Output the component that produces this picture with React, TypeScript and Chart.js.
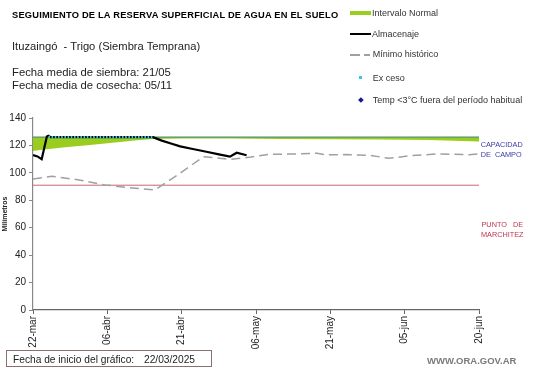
import React, { useEffect, useRef } from 'react';
import { Chart, registerables } from 'chart.js';

Chart.register(...registerables);

// X axis: days since 22/03/2025
const tickLabels = ['22-mar', '06-abr', '21-abr', '06-may', '21-may', '05-jun', '20-jun'];
const yTicks = [0, 20, 40, 60, 80, 100, 120, 140];

// Intervalo normal (band)
const bandDays = [0, 1.4, 6, 11.5, 16, 21.6, 24.2, 30, 40, 50, 60, 70, 80, 85, 90];
const bandLower = [116, 116.7, 118.5, 120.3, 122, 124, 124.7, 125, 125, 124.6, 124.5, 124.3, 124, 123.5, 122.8];
const bandUpper = [126, 126, 126, 126, 126, 126, 126, 126, 126, 126, 126, 126, 126, 126, 126];

// Almacenaje
const almDays = [0, 0.9, 1.75, 2.8, 3.1, 3.5, 24.2, 26, 28, 29.7, 32, 35, 37.5, 39.75, 41.1, 43.1];
const almValues = [113, 112, 110, 126.5, 127, 126, 126, 123.5, 121.2, 119.3, 117.6, 115.4, 113.5, 111.8, 114.7, 112.8];

// Exceso
const excesoDays = [3.1, 24.2];
const excesoValues = [126, 126];

// Mínimo histórico
const minDays = [0, 3.8, 9, 14.5, 20, 24.6, 29, 34.4, 37, 39.75, 44, 47.8, 52, 57.3, 59, 63, 68, 71.8, 76.2, 81.6, 84.3, 88, 90];
const minValues = [95.5, 97.5, 95, 91.2, 89, 87.5, 98, 111.8, 111, 109.9, 111.5, 113.6, 113.7, 114.3, 113.2, 113.3, 112.8, 110.6, 112.5, 113.8, 113.6, 113.2, 113.8];

// Reference lines
const limitDays = [0, 90];
const capacidadCampo = [126, 126];
const puntoMarchitez = [91, 91];

const pts = (xs: number[], ys: number[]) => xs.map((x, i) => ({ x, y: ys[i] }));

const FONT = '"Liberation Sans", Arial, sans-serif';

function T(props: { x: number; y: number; size: number; color?: string; bold?: boolean; children: React.ReactNode; spacing?: number }) {
  return (
    <div
      style={{
        position: 'absolute',
        left: props.x,
        top: props.y,
        transform: 'translateY(-50%)',
        fontSize: props.size,
        lineHeight: 1,
        color: props.color || '#222',
        fontWeight: props.bold ? 'bold' : 'normal',
        whiteSpace: 'pre',
        letterSpacing: props.spacing || 0,
      }}
    >
      {props.children}
    </div>
  );
}

export default function App() {
  const ref = useRef<HTMLCanvasElement>(null);

  useEffect(() => {
    document.body.style.margin = '0';
    const chart = new Chart(ref.current as HTMLCanvasElement, {
      type: 'line',
      data: {
        datasets: [
          {
            label: 'lower',
            data: pts(bandDays, bandLower),
            borderWidth: 0,
            borderColor: 'rgba(0,0,0,0)',
            pointRadius: 0,
            fill: false,
            order: 6,
          },
          {
            label: 'Intervalo Normal',
            data: pts(bandDays, bandUpper),
            borderWidth: 0,
            borderColor: 'rgba(0,0,0,0)',
            backgroundColor: '#9acd1e',
            pointRadius: 0,
            fill: '-1',
            order: 5,
          },
          {
            label: 'Capacidad de campo',
            data: pts(limitDays, capacidadCampo),
            borderWidth: 1.2,
            borderColor: '#4f8f6a',
            pointRadius: 0,
            fill: false,
            order: 4,
          },
          {
            label: 'Punto de marchitez',
            data: pts(limitDays, puntoMarchitez),
            borderWidth: 1,
            borderColor: '#c86a6a',
            pointRadius: 0,
            fill: false,
            order: 3,
          },
          {
            label: 'Mínimo histórico',
            data: pts(minDays, minValues),
            borderWidth: 1.5,
            borderColor: '#a0a0a0',
            borderDash: [9, 5],
            pointRadius: 0,
            fill: false,
            order: 2,
          },
          {
            label: 'Almacenaje',
            data: pts(almDays, almValues),
            borderWidth: 2.2,
            borderColor: '#000000',
            pointRadius: 0,
            fill: false,
            order: 1,
          },
          {
            label: 'Exceso',
            data: pts(excesoDays, excesoValues),
            borderWidth: 2.4,
            borderColor: '#3cc6e0',
            borderDash: [1.6, 1.6],
            borderCapStyle: 'butt',
            pointRadius: 0,
            fill: false,
            order: 0,
          },
        ],
      },
      options: {
        responsive: false,
        animation: false,
        maintainAspectRatio: false,
        layout: { padding: { left: 0, right: 62, top: 118, bottom: 0 } },
        plugins: { legend: { display: false }, tooltip: { enabled: false } },
        elements: { line: { tension: 0 } },
        scales: {
          x: {
            type: 'linear',
            min: 0,
            max: 90,
            afterFit: (s: any) => {
              s.height = 58;
            },
            afterBuildTicks: (s: any) => {
              s.ticks = tickLabels.map((_, i) => ({ value: i * 15 }));
            },
            ticks: {
              autoSkip: false,
              minRotation: 90,
              maxRotation: 90,
              padding: 2,
              color: '#222',
              font: { family: FONT, size: 10 },
              callback: (v: any) => tickLabels[Math.round(Number(v) / 15)] ?? '',
            },
            grid: { display: true, drawOnChartArea: false, drawTicks: true, tickLength: 4, color: '#666' },
            border: { display: true, color: '#666', width: 1.2 },
          },
          y: {
            type: 'linear',
            min: 0,
            max: 140,
            afterFit: (s: any) => {
              s.width = 33;
            },
            afterBuildTicks: (s: any) => {
              s.ticks = yTicks.map((v) => ({ value: v }));
            },
            ticks: {
              padding: 3,
              color: '#222',
              font: { family: FONT, size: 10 },
            },
            title: {
              display: true,
              text: 'Milímetros',
              color: '#222',
              padding: 1,
              font: { family: FONT, size: 7, weight: 'bold' },
            },
            grid: { display: true, drawOnChartArea: false, drawTicks: true, tickLength: 4, color: '#888' },
            border: { display: true, color: '#888', width: 1.2 },
          },
        },
      },
    } as any);
    return () => chart.destroy();
  }, []);

  return (
    <div
      style={{
        position: 'relative',
        width: 541,
        height: 368,
        overflow: 'hidden',
        background: '#fff',
        fontFamily: FONT,
      }}
    >
      <canvas ref={ref} width={541} height={368} style={{ position: 'absolute', left: 0, top: 0 }} />

      <T x={12} y={15.5} size={9.3} bold color="#000" spacing={0.2}>
        SEGUIMIENTO DE LA RESERVA SUPERFICIAL DE AGUA EN EL SUELO
      </T>
      <T x={12} y={46.5} size={11.2} color="#222">
        {'Ituzaingó  - Trigo (Siembra Temprana)'}
      </T>
      <T x={12} y={73.4} size={11.3} color="#222">
        Fecha media de siembra: 21/05
      </T>
      <T x={12} y={85.5} size={11.3} color="#222">
        Fecha media de cosecha: 05/11
      </T>

      {/* Legend */}
      <div style={{ position: 'absolute', left: 350, top: 11, width: 21, height: 4, background: '#9acd1e' }} />
      <T x={372} y={12.7} size={9} color="#333">Intervalo Normal</T>
      <div style={{ position: 'absolute', left: 350, top: 32.5, width: 21, height: 2, background: '#000' }} />
      <T x={372} y={33.5} size={9} color="#333">Almacenaje</T>
      <div style={{ position: 'absolute', left: 350, top: 54, width: 10, height: 1.5, background: '#a0a0a0' }} />
      <div style={{ position: 'absolute', left: 364, top: 54, width: 6, height: 1.5, background: '#a0a0a0' }} />
      <T x={372.7} y={54.3} size={9} color="#333">Mínimo histórico</T>
      <div style={{ position: 'absolute', left: 359.3, top: 76.3, width: 3, height: 3, background: '#3cc6e0' }} />
      <T x={372.7} y={77.7} size={9} color="#333">{'Ex ceso'}</T>
      <div
        style={{
          position: 'absolute',
          left: 358.8,
          top: 98.1,
          width: 3.8,
          height: 3.8,
          background: '#1a1a8c',
          transform: 'rotate(45deg)',
        }}
      />
      <T x={372.7} y={100} size={9} color="#333">Temp &lt;3°C fuera del período habitual</T>

      {/* Right labels */}
      <T x={480.7} y={145} size={7.3} color="#3b3baa">CAPACIDAD</T>
      <T x={480.7} y={154.7} size={7.3} color="#3b3baa">{'DE  CAMPO'}</T>
      <T x={481.5} y={225} size={7.3} color="#c0354e">{'PUNTO   DE'}</T>
      <T x={481} y={234.5} size={7.3} color="#c0354e">MARCHITEZ</T>

      {/* Bottom */}
      <div
        style={{
          position: 'absolute',
          left: 6,
          top: 350,
          width: 206,
          height: 17,
          border: '1px solid #8c7070',
          boxSizing: 'border-box',
        }}
      />
      <T x={13} y={359.5} size={10.2} color="#222">Fecha de inicio del gráfico:</T>
      <T x={144} y={359.5} size={10.2} color="#222">22/03/2025</T>
      <T x={427} y={361} size={9.5} bold color="#7a7a7a">WWW.ORA.GOV.AR</T>
    </div>
  );
}
